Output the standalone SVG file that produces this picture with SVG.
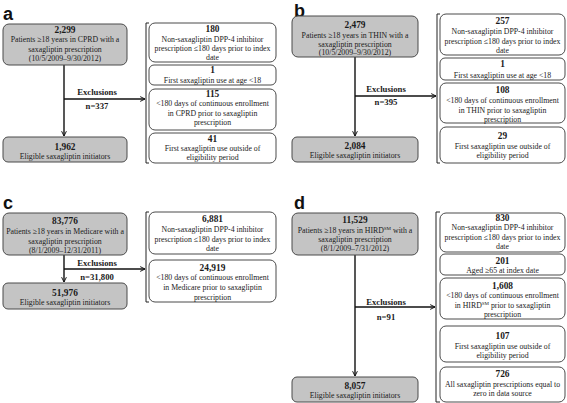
<svg xmlns="http://www.w3.org/2000/svg" width="567" height="403" viewBox="0 0 567 403">
<defs>
<style>
.g{fill:#c4c4c4;stroke:#4a4a4a;stroke-width:1}
.w{fill:#ffffff;stroke:#4a4a4a;stroke-width:1}
text{font-family:"Liberation Serif","Times New Roman",serif;font-size:7.8px;fill:#1a1a1a;text-anchor:middle}
.n{font-weight:bold;font-size:9.4px}
.x{font-weight:bold;font-size:8.7px}
.lab{font-family:"Liberation Sans",Arial,sans-serif;font-weight:bold;font-size:18px;text-anchor:start;fill:#111}
.ln{stroke:#111;stroke-width:1.4;fill:none}
.br{stroke:#222;stroke-width:1;fill:none}
</style>
<marker id="ah" viewBox="0 0 10 10" refX="9" refY="5" markerWidth="6" markerHeight="7" markerUnits="userSpaceOnUse" orient="auto">
<path d="M1,1 L9,5 L1,9" fill="none" stroke="#111" stroke-width="1.6"/>
</marker>
</defs>
<rect width="567" height="403" fill="#ffffff"/>

<text class="lab" x="3" y="20">a</text>
<text class="lab" x="294" y="16.5">b</text>
<text class="lab" x="3" y="209">c</text>
<text class="lab" x="294" y="208.5">d</text>

<g id="connectors">
<path class="ln" d="M64,65 V136" marker-end="url(#ah)"/>
<path class="ln" d="M64,99 H145" marker-end="url(#ah)"/>
<path class="br" d="M149,23 H146 V163 H149"/>
<path class="ln" d="M355,57 V136" marker-end="url(#ah)"/>
<path class="ln" d="M355,96 H436" marker-end="url(#ah)"/>
<path class="br" d="M440,14 H437 V163 H440"/>
<path class="ln" d="M64,255 V282" marker-end="url(#ah)"/>
<path class="ln" d="M64,269 H145" marker-end="url(#ah)"/>
<path class="br" d="M149,212 H146 V302 H149"/>
<path class="ln" d="M355,255 V376" marker-end="url(#ah)"/>
<path class="ln" d="M355,307 H435" marker-end="url(#ah)"/>
<path class="br" d="M440,212 H436 V402 H440"/>
<text class="x" x="97" y="95">Exclusions</text>
<text class="x" x="97" y="109">n=337</text>
<text class="x" x="386" y="92">Exclusions</text>
<text class="x" x="386" y="105">n=395</text>
<text class="x" x="97" y="266">Exclusions</text>
<text class="x" x="97" y="280">n=31,800</text>
<text class="x" x="386" y="305">Exclusions</text>
<text class="x" x="386" y="320">n=91</text>
</g>

<!-- Panel a -->
<g id="a-top">
<rect class="g" x="3" y="24" width="124" height="41" rx="6"/>
<text class="n" x="65" y="32.5">2,299</text>
<text x="65" y="42">Patients ≥18 years in CPRD with a</text>
<text x="65" y="51.5">saxagliptin prescription</text>
<text x="65" y="61">(10/5/2009–9/30/2012)</text>
</g>
<g id="a-bottom">
<rect class="g" x="3" y="137" width="124" height="25" rx="5"/>
<text class="n" x="65" y="149.5">1,962</text>
<text x="65" y="158.5">Eligible saxagliptin initiators</text>
</g>
<g id="a-ex1">
<rect class="w" x="149" y="23" width="127" height="39" rx="6"/>
<text class="n" x="212.5" y="32">180</text>
<text x="212.5" y="41.5">Non-saxagliptin DPP-4 inhibitor</text>
<text x="212.5" y="51">prescription ≤180 days prior to index</text>
<text x="212.5" y="60">date</text>
</g>
<g id="a-ex2">
<rect class="w" x="149" y="65" width="127" height="20" rx="5"/>
<text class="n" x="212.5" y="73">1</text>
<text x="212.5" y="83">First saxagliptin use at age  &lt;18</text>
</g>
<g id="a-ex3">
<rect class="w" x="149" y="89" width="127" height="41" rx="6"/>
<text class="n" x="212.5" y="97">115</text>
<text x="212.5" y="106">&lt;180 days of continuous enrollment</text>
<text x="212.5" y="115.5">in CPRD prior to saxagliptin</text>
<text x="212.5" y="125">prescription</text>
</g>
<g id="a-ex4">
<rect class="w" x="149" y="133" width="127" height="30" rx="6"/>
<text class="n" x="212.5" y="141.5">41</text>
<text x="212.5" y="151">First saxagliptin use outside of</text>
<text x="212.5" y="160">eligibility period</text>
</g>

<!-- Panel b -->
<g id="b-top">
<rect class="g" x="292" y="16" width="126" height="41" rx="6"/>
<text class="n" x="355" y="28">2,479</text>
<text x="355" y="37.5">Patients ≥18 years in THIN with a</text>
<text x="355" y="46.5">saxagliptin prescription</text>
<text x="355" y="55">(10/5/2009–9/30/2012)</text>
</g>
<g id="b-bottom">
<rect class="g" x="292" y="137" width="126" height="25" rx="5"/>
<text class="n" x="355" y="149">2,084</text>
<text x="355" y="158">Eligible saxagliptin initiators</text>
</g>
<g id="b-ex1">
<rect class="w" x="440" y="14" width="125" height="41" rx="6"/>
<text class="n" x="502.5" y="23.5">257</text>
<text x="502.5" y="34">Non-saxagliptin DPP-4 inhibitor</text>
<text x="502.5" y="43.5">prescription ≤180 days prior to index</text>
<text x="502.5" y="53">date</text>
</g>
<g id="b-ex2">
<rect class="w" x="440" y="58" width="125" height="22" rx="5"/>
<text class="n" x="502.5" y="66.5">1</text>
<text x="502.5" y="77.5">First saxagliptin use at age  &lt;18</text>
</g>
<g id="b-ex3">
<rect class="w" x="440" y="83" width="125" height="40" rx="6"/>
<text class="n" x="502.5" y="93">108</text>
<text x="502.5" y="103">&lt;180 days of continuous enrollment</text>
<text x="502.5" y="112.5">in THIN prior to saxagliptin</text>
<text x="502.5" y="121.5">prescription</text>
</g>
<g id="b-ex4">
<rect class="w" x="440" y="127" width="125" height="36" rx="6"/>
<text class="n" x="502.5" y="138.5">29</text>
<text x="502.5" y="149">First saxagliptin use outside of</text>
<text x="502.5" y="158">eligibility period</text>
</g>

<!-- Panel c -->
<g id="c-top">
<rect class="g" x="3" y="213" width="124" height="42" rx="6"/>
<text class="n" x="65" y="223.5">83,776</text>
<text x="65" y="234">Patients ≥18 years in Medicare with a</text>
<text x="65" y="244">saxagliptin prescription</text>
<text x="65" y="253">(8/1/2009–12/31/2011)</text>
</g>
<g id="c-bottom">
<rect class="g" x="3" y="283" width="124" height="26" rx="5"/>
<text class="n" x="65" y="295.5">51,976</text>
<text x="65" y="305">Eligible saxagliptin initiators</text>
</g>
<g id="c-ex1">
<rect class="w" x="149" y="212" width="127" height="42" rx="6"/>
<text class="n" x="212.5" y="222">6,881</text>
<text x="212.5" y="232">Non-saxagliptin DPP-4 inhibitor</text>
<text x="212.5" y="242">prescription ≤180 days prior to index</text>
<text x="212.5" y="251">date</text>
</g>
<g id="c-ex2">
<rect class="w" x="149" y="260" width="127" height="42" rx="6"/>
<text class="n" x="212.5" y="270.5">24,919</text>
<text x="212.5" y="280">&lt;180 days of continuous enrollment</text>
<text x="212.5" y="290">in Medicare prior to saxagliptin</text>
<text x="212.5" y="300">prescription</text>
</g>

<!-- Panel d -->
<g id="d-top">
<rect class="g" x="292" y="213" width="126" height="42" rx="6"/>
<text class="n" x="355" y="223">11,529</text>
<text x="355" y="233">Patients ≥18 years in HIRD<tspan font-size="5" dy="-3">SM</tspan><tspan dy="3"> with a</tspan></text>
<text x="355" y="242">saxagliptin prescription</text>
<text x="355" y="251">(8/1/2009–7/31/2012)</text>
</g>
<g id="d-bottom">
<rect class="g" x="292" y="377" width="126" height="25" rx="5"/>
<text class="n" x="355" y="388.5">8,057</text>
<text x="355" y="397.5">Eligible saxagliptin initiators</text>
</g>
<g id="d-ex1">
<rect class="w" x="440" y="213" width="125" height="39" rx="6"/>
<text class="n" x="502.5" y="221">830</text>
<text x="502.5" y="230">Non-saxagliptin DPP-4 inhibitor</text>
<text x="502.5" y="240">prescription ≤180 days prior to index</text>
<text x="502.5" y="249">date</text>
</g>
<g id="d-ex2">
<rect class="w" x="440" y="254" width="125" height="21" rx="5"/>
<text class="n" x="502.5" y="263.5">201</text>
<text x="502.5" y="273">Aged  ≥65 at index date</text>
</g>
<g id="d-ex3">
<rect class="w" x="440" y="278" width="125" height="41" rx="6"/>
<text class="n" x="502.5" y="288.5">1,608</text>
<text x="502.5" y="298">&lt;180 days of continuous enrollment</text>
<text x="502.5" y="308">in HIRD<tspan font-size="5" dy="-3">SM</tspan><tspan dy="3"> prior to saxagliptin</tspan></text>
<text x="502.5" y="317">prescription</text>
</g>
<g id="d-ex4">
<rect class="w" x="440" y="326" width="125" height="36" rx="6"/>
<text class="n" x="502.5" y="338.5">107</text>
<text x="502.5" y="349">First saxagliptin use outside of</text>
<text x="502.5" y="358">eligibility period</text>
</g>
<g id="d-ex5">
<rect class="w" x="440" y="367" width="125" height="35" rx="6"/>
<text class="n" x="502.5" y="376.5">726</text>
<text x="502.5" y="386.5">All saxagliptin prescriptions equal to</text>
<text x="502.5" y="396">zero in data source</text>
</g>
</svg>
